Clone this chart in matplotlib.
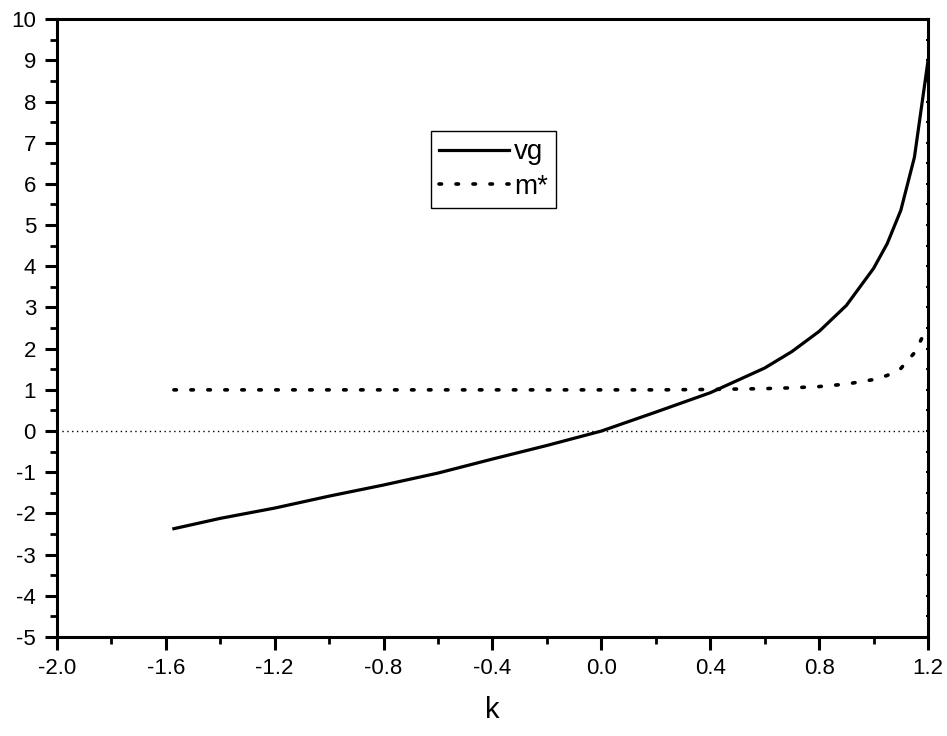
import matplotlib.pyplot as plt
import numpy as np
from matplotlib.ticker import MultipleLocator

plt.rcParams['font.family'] = ['Liberation Sans', 'DejaVu Sans']
plt.rcParams['axes.unicode_minus'] = False

# values
k = [-1.57, -1.4, -1.2, -1.0, -0.8, -0.6, -0.4, -0.2, 0.0, 0.2, 0.4,
     0.6, 0.7, 0.8, 0.9, 1.0, 1.05, 1.1, 1.15, 1.2]
vg = [-2.37, -2.12, -1.87, -1.58, -1.31, -1.02, -0.68, -0.35, 0.0, 0.46, 0.93,
      1.53, 1.93, 2.42, 3.05, 3.95, 4.55, 5.36, 6.65, 9.0]
mstar = [1.0, 1.0, 1.0, 1.0, 1.0, 1.0, 1.0, 1.0, 1.0, 1.0, 1.01,
         1.03, 1.05, 1.08, 1.14, 1.25, 1.35, 1.52, 1.9, 2.55]

fig = plt.figure(figsize=(9.47, 7.36), dpi=100)
ax = fig.add_axes([0.060, 0.1345, 0.920, 0.8395])

ax.axhline(0, color='black', lw=1.0, ls=(0, (1, 2.5)), zorder=1)
ax.plot(k, vg, color='black', lw=2.3, label='vg')
ax.plot(k, mstar, color='black', lw=2.6, ls=(0, (0.7, 4.0)),
        dash_capstyle='round', label='m*')

ax.set_xlim(-2.0, 1.2)
ax.set_ylim(-5, 10)
ax.xaxis.set_major_locator(MultipleLocator(0.4))
ax.xaxis.set_minor_locator(MultipleLocator(0.2))
ax.yaxis.set_major_locator(MultipleLocator(1))
ax.yaxis.set_minor_locator(MultipleLocator(0.5))
ax.set_xticklabels([f'{v:.1f}' for v in ax.get_xticks()])

for s in ax.spines.values():
    s.set_linewidth(2.2)

ax.tick_params(which='major', direction='out', length=9, width=2.2,
               labelsize=16, pad=6)
ax.tick_params(which='minor', direction='out', length=5, width=2.0)

# small ticks on the right side
ax2 = ax.twinx()
ax2.set_ylim(-5, 10)
ax2.yaxis.set_major_locator(MultipleLocator(0.5))
ax2.tick_params(direction='inout', length=3, width=1.5, labelright=False)

ax.set_xlabel('k', fontsize=21, labelpad=12)

ax.legend(loc='upper left', bbox_to_anchor=(0.455, 0.822),
          bbox_transform=fig.transFigure, fontsize=20, frameon=True,
          fancybox=False, edgecolor='black', framealpha=1,
          handlelength=2.5, handletextpad=0.2, borderpad=0.3,
          labelspacing=0.3, borderaxespad=0)
leg = ax.get_legend()
leg.get_frame().set_linewidth(1.0)
# move legend on top of the twin axis
leg.remove()
ax2.add_artist(leg)

fig.savefig('out.png', dpi=100)
